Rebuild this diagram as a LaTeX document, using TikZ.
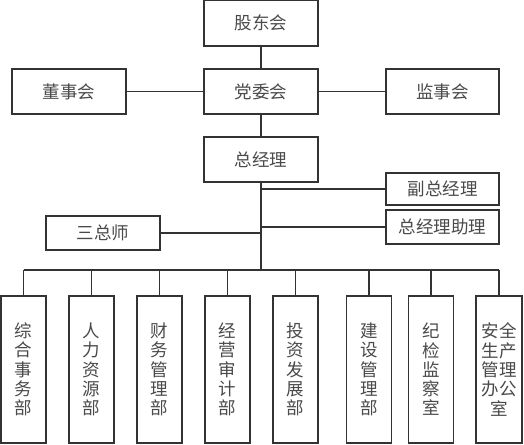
\documentclass[tikz,border=0pt]{standalone}
\usepackage{fontspec}
\newfontfamily\cjk{Noto Sans CJK SC}
\definecolor{linec}{HTML}{333333}
\definecolor{textc}{HTML}{4a4a4a}
\begin{document}
\begin{tikzpicture}[x=1pt,y=-1pt,
  box/.style={draw=linec,line width=1.1pt,inner sep=0pt,font=\cjk\fontsize{17.5}{19.3}\selectfont,text=textc,align=center},
  conn/.style={draw=linec,line width=1.1pt},
  vbox/.style={box,minimum width=45,minimum height=147}]
\useasboundingbox[fill=white] (0,0) rectangle (524,444);
\node[box,minimum width=114,minimum height=45.5] (gd) at (261,23.3) {股东会};
\node[box,minimum width=114,minimum height=45] (dw) at (261,91.5) {党委会};
\node[box,minimum width=114,minimum height=45] (dsh) at (69,91.5) {董事会};
\node[box,minimum width=113,minimum height=45] (jsh) at (442.5,91.5) {监事会};
\node[box,minimum width=114,minimum height=45] (zjl) at (261,159.5) {总经理};
\node[box,minimum width=113,minimum height=32] (fz) at (442.5,189) {副总经理};
\node[box,minimum width=113,minimum height=34] (zl) at (442.5,227) {总经理助理};
\node[box,minimum width=114,minimum height=34] (szs) at (103,233) {三总师};
\coordinate (busc) at (261,270);
\node[vbox] (b1) at (23.5,369.5) {综\\合\\事\\务\\部};
\node[vbox] (b2) at (91.5,369.5) {人\\力\\资\\源\\部};
\node[vbox] (b3) at (159.5,369.5) {财\\务\\管\\理\\部};
\node[vbox] (b4) at (227.5,369.5) {经\\营\\审\\计\\部};
\node[vbox] (b5) at (295.5,369.5) {投\\资\\发\\展\\部};
\node[vbox] (b6) at (369,369.5) {建\\设\\管\\理\\部};
\node[vbox] (b7) at (431,369.5) {纪\\检\\监\\察\\室};
\node[vbox,minimum width=46] (b8) at (499,369.5) {安全\\生产\\管理\\办公\\室};
\draw[conn] (gd.south) -- (dw.north);
\draw[conn] (dsh.east) -- (dw.west);
\draw[conn] (dw.east) -- (jsh.west);
\draw[conn] (dw.south) -- (zjl.north);
\draw[conn] (zjl.south) -- (busc);
\draw[conn] (fz.west) -- (fz.west -| zjl.south);
\draw[conn] (zl.west) -- (zl.west -| zjl.south);
\draw[conn] (szs.east) -- (szs.east -| zjl.south);
\draw[conn] (b1.north |- busc) -- (b8.north |- busc);
\foreach \b in {b1,b2,b3,b4,b5,b6,b7,b8}
  \draw[conn] (\b.north) -- (\b.north |- busc);
\end{tikzpicture}
\end{document}
